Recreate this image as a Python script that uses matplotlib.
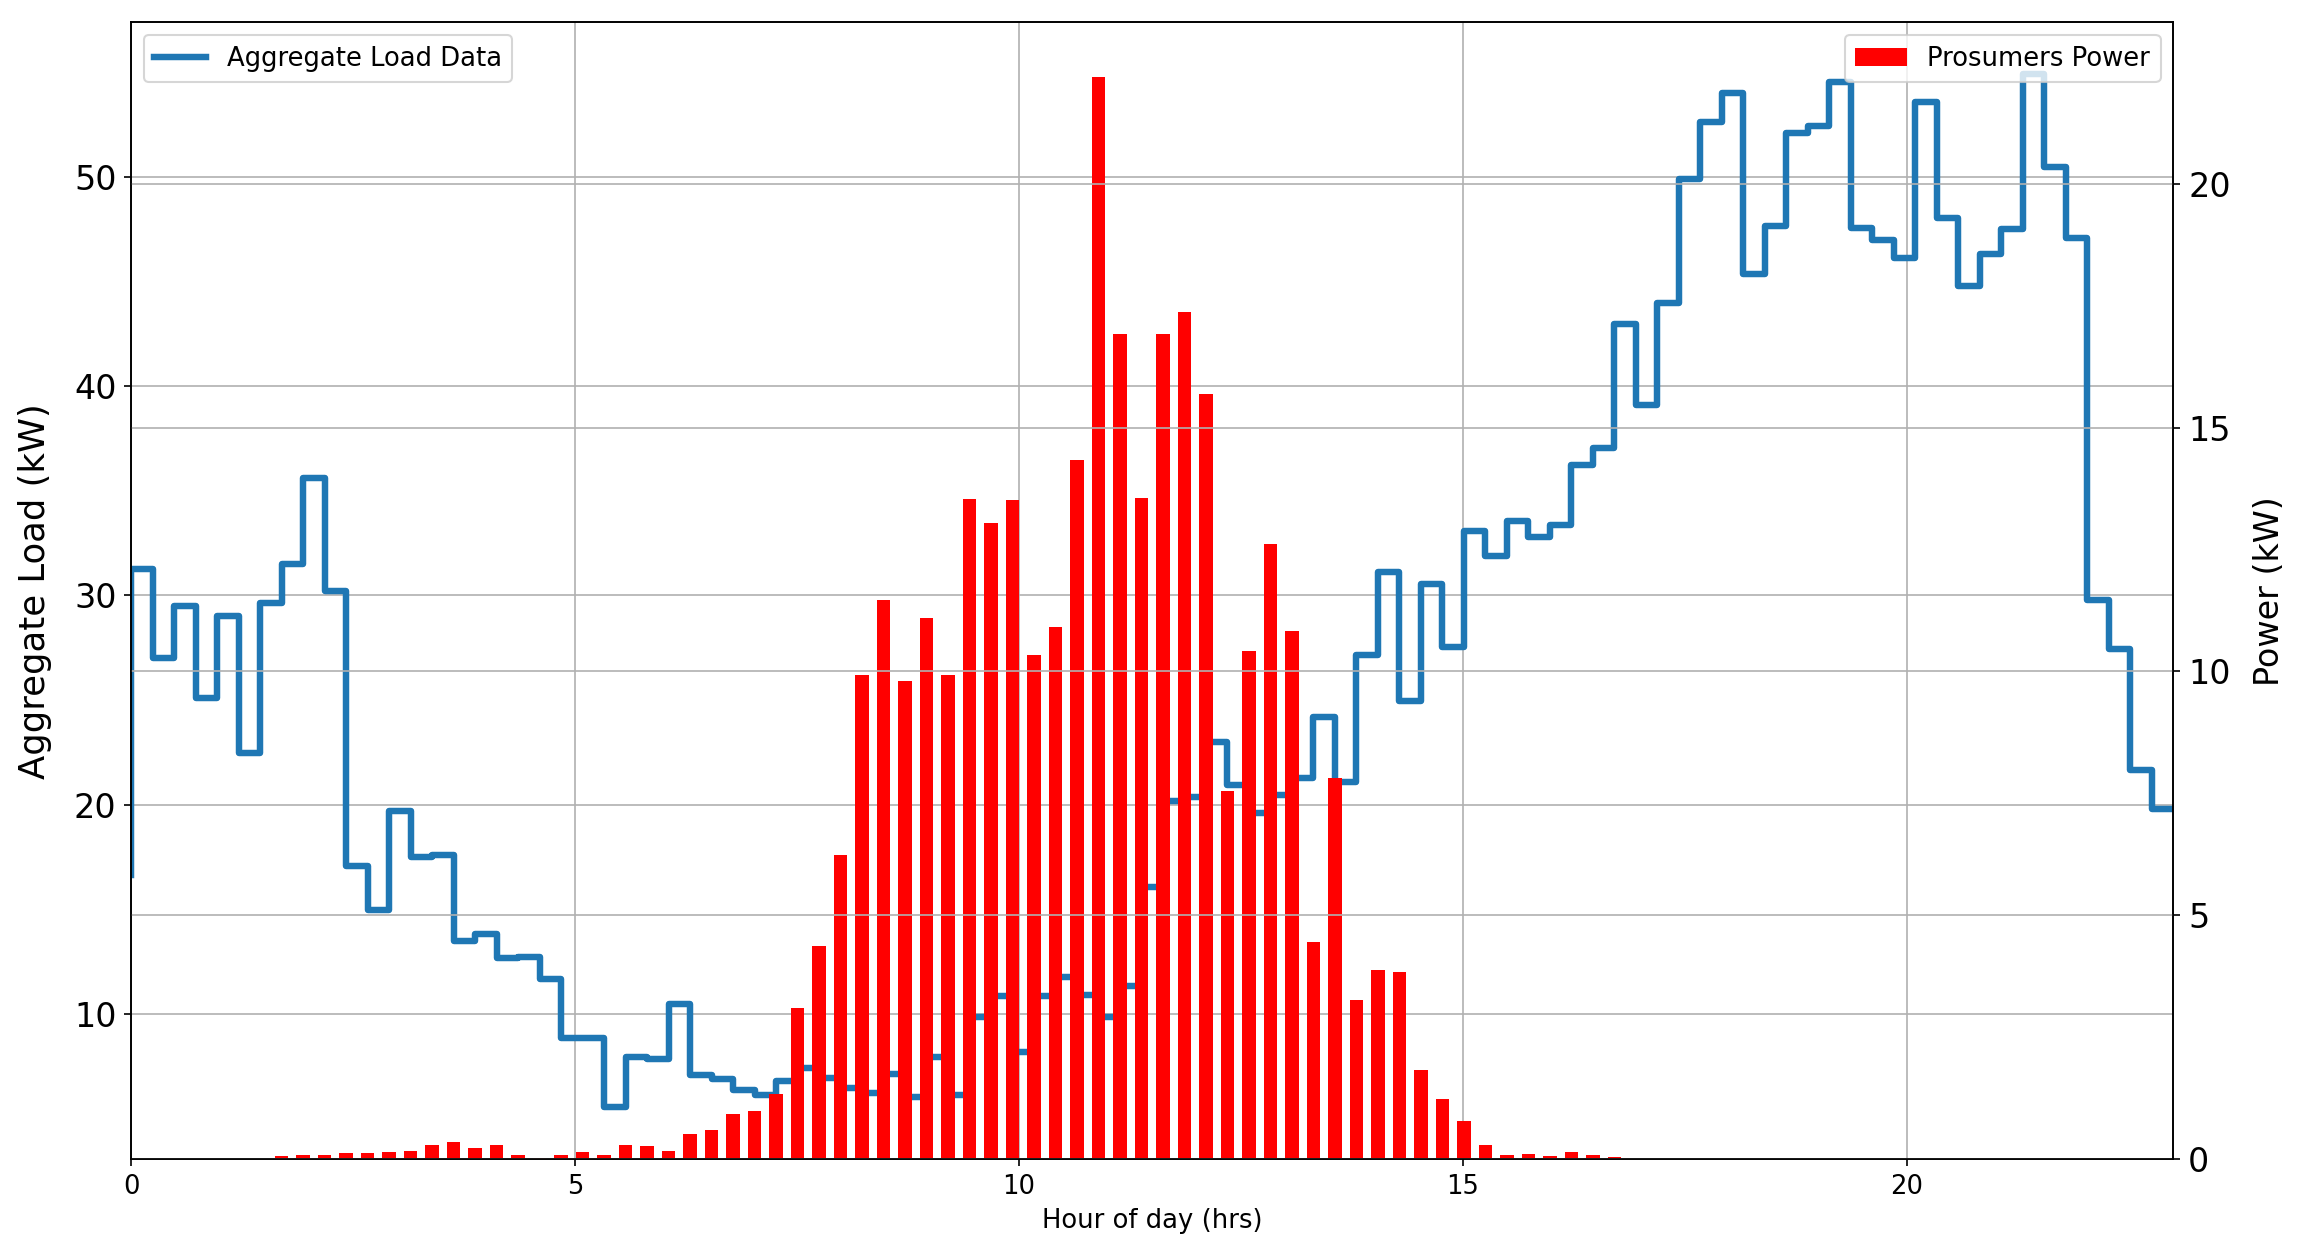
import numpy as np
import matplotlib
matplotlib.use("Agg")
import matplotlib.pyplot as plt

# %% data: 96 samples over the day (0..23 h)
hours = np.linspace(0, 23, 96)

aggregate_load = [
    16.65, 31.28, 27.0, 29.47, 25.09, 29.0, 22.45, 29.66, 31.52, 35.6,
    30.2, 17.05, 14.99, 19.69, 17.51, 17.61, 13.49, 13.81, 12.69, 12.73,
    11.65, 8.85, 8.87, 5.54, 7.94, 7.84, 10.5, 7.10, 6.89, 6.39,
    6.14, 6.80, 7.44, 6.94, 6.44, 6.24, 7.14, 6.01, 7.94, 6.14,
    9.84, 10.84, 8.18, 10.84, 11.78, 10.90, 9.84, 11.35, 16.09, 20.19,
    20.35, 23.0, 20.95, 19.59, 20.45, 21.29, 24.19, 21.09, 27.15, 31.12,
    24.94, 30.55, 27.55, 33.1, 31.88, 33.56, 32.77, 33.36, 36.23, 37.06,
    42.99, 39.09, 43.98, 49.9, 52.6, 54.0, 45.36, 47.63, 52.07, 52.44,
    54.52, 47.57, 47.0, 46.1, 53.56, 48.03, 44.77, 46.33, 47.5, 54.91,
    50.46, 47.07, 29.8, 27.45, 21.65, 19.81,
]

prosumers_power = [
    0, 0, 0, 0, 0, 0, 0, 0.07, 0.09, 0.09,
    0.13, 0.13, 0.15, 0.17, 0.28, 0.35, 0.23, 0.28, 0.09, 0.02,
    0.09, 0.15, 0.09, 0.28, 0.26, 0.17, 0.52, 0.59, 0.92, 0.99,
    1.33, 3.10, 4.37, 6.24, 9.92, 11.47, 9.80, 11.10, 9.92, 13.54,
    13.04, 13.51, 10.34, 10.91, 14.34, 22.20, 16.91, 13.56, 16.91, 17.37,
    15.69, 7.55, 10.42, 12.61, 10.83, 4.45, 7.82, 3.27, 3.87, 3.84,
    1.82, 1.24, 0.77, 0.28, 0.09, 0.10, 0.07, 0.15, 0.09, 0.05,
    0, 0, 0, 0, 0, 0, 0, 0, 0, 0,
    0, 0, 0, 0, 0, 0, 0, 0, 0, 0,
    0, 0, 0, 0, 0, 0,
]

small = 12.4  # legend / x axis text

# %% plot
fig, ax1 = plt.subplots(figsize=(2307 / 150, 1258 / 150), dpi=150)
fig.subplots_adjust(left=0.0568, right=0.9421, bottom=0.0787, top=0.9822)

ax1.step(hours, aggregate_load, where='pre', lw=3.1, label='Aggregate Load Data')
ax1.set_xlabel('Hour of day (hrs)', fontsize=small)
ax1.set_ylabel('Aggregate Load (kW)', fontsize=17, labelpad=10.5)
ax1.tick_params(axis='y', labelsize=16)
ax1.tick_params(axis='x', labelsize=small)
ax1.grid(True)
ax1.legend(loc='upper left', fontsize=small)

ax2 = ax1.twinx()
ax2.bar(hours, prosumers_power, width=0.15, color='red', label='Prosumers Power')
ax2.set_ylabel('Power (kW)', fontsize=16, labelpad=10.5)
ax2.tick_params(axis='y', labelsize=16)
ax2.grid(True)
ax2.legend(loc='upper right', fontsize=small)

ax1.set_xlim(0, 23)

fig.savefig('out.png', dpi=150)
